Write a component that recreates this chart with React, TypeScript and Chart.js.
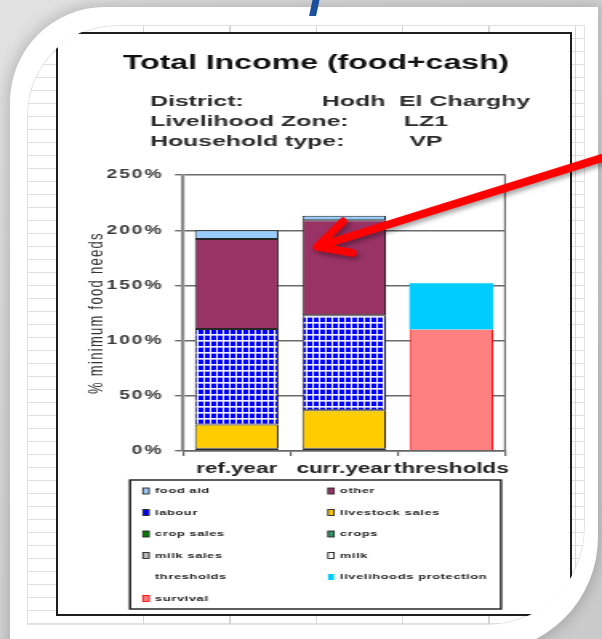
import React, { useEffect, useRef } from 'react';
import { Chart, registerables } from 'chart.js';

Chart.register(...registerables);

// ---------- data ----------
const categories = ['ref.year', 'curr.year', 'thresholds'];
const foodAid = [8, 4, 0];
const other = [81.5, 86, 0];
const labour = [86.5, 86, 0];
const livestockSales = [22, 35, 0];
const cropSales = [0, 0, 0];
const crops = [0, 0, 0];
const milkSales = [0, 0, 0];
const milk = [2, 2, 0];
const thresholds = [0, 0, 0];
const livelihoodsProtection = [0, 0, 42];
const survival = [0, 0, 110];
const yMax = 250;
const yStep = 50;
const legendOrder = [
  'food aid', 'other',
  'labour', 'livestock sales',
  'crop sales', 'crops',
  'milk sales', 'milk',
  'thresholds', 'livelihoods protection',
  'survival',
];
const chartTitle = 'Total Income (food+cash)';
const infoLabels = ['District:', 'Livelihood Zone:', 'Household type:'];
const infoValues = ['Hodh  El Charghy', 'LZ1', 'VP'];
const yAxisTitle = '% minimum food needs';
const arrowTarget = { category: 'curr.year', value: 185, shift: -0.25 };

// ---------- layout ----------
const W = 602;
const H = 639;
const CW = 376;
const S = W / CW;
const FONT = '"Liberation Sans", Arial, Helvetica, sans-serif';
const fx = (x: number) => x / S;

const letterSpacingPlugin = {
  id: 'spacing',
  beforeDraw(chart: any) {
    chart.ctx.letterSpacing = '1.3px';
  },
  afterDatasetsDraw(chart: any) {
    chart.ctx.letterSpacing = '0px';
    const { ctx, chartArea: a } = chart;
    ctx.save();
    ctx.strokeStyle = '#707070';
    ctx.lineWidth = 1.2;
    ctx.beginPath();
    ctx.moveTo(a.right, a.top - 0.6);
    ctx.lineTo(a.right, a.bottom);
    ctx.stroke();
    ctx.restore();
  },
};

const headerPlugin = {
  id: 'header',
  afterDraw(chart: any) {
    const ctx = chart.ctx;
    ctx.save();
    ctx.letterSpacing = '0px';
    ctx.fillStyle = '#111111';
    ctx.font = `bold 20px ${FONT}`;
    ctx.textAlign = 'center';
    ctx.textBaseline = 'middle';
    ctx.fillText(chartTitle, fx(316), 63);
    ctx.font = `bold 15.5px ${FONT}`;
    ctx.fillStyle = '#2c2c2c';
    infoLabels.forEach((l, i) => {
      ctx.textAlign = 'left';
      ctx.fillText(l, fx(150), 102 + 20 * i);
      ctx.textAlign = 'center';
      ctx.fillText(infoValues[i], fx(426), 102 + 20 * i);
    });
    ctx.restore();
  },
};

const legendPlugin = {
  id: 'boxLegend',
  afterDraw(chart: any) {
    const ctx = chart.ctx;
    ctx.save();
    const bx = fx(130);
    const by = 480;
    const bw = fx(501) - fx(130);
    const bh = 129;
    ctx.fillStyle = '#ffffff';
    ctx.fillRect(bx, by, bw, bh);
    ctx.strokeStyle = '#1a1a1a';
    ctx.lineWidth = 1.4;
    ctx.strokeRect(bx, by, bw, bh);
    ctx.font = `bold 8px ${FONT}`;
    ctx.letterSpacing = '0.4px';
    ctx.textAlign = 'left';
    ctx.textBaseline = 'middle';
    legendOrder.forEach((lbl, i) => {
      const ds = chart.data.datasets.find((d: any) => d.label === lbl);
      if (!ds) return;
      const col = i % 2;
      const row = Math.floor(i / 2);
      const mx = fx(col ? 331 : 146);
      const ty = 491 + row * 21.5;
      const hasFill = ds.backgroundColor !== 'rgba(0,0,0,0)';
      if (hasFill) {
        ctx.fillStyle = ds.legendColor || ds.backgroundColor;
        ctx.fillRect(mx - fx(3), ty - 3, fx(6), 6);
        if (ds.borderWidth) {
          ctx.strokeStyle = ds.borderColor;
          ctx.lineWidth = 0.9;
          ctx.strokeRect(mx - fx(3), ty - 3, fx(6), 6);
        }
      }
      ctx.fillStyle = '#222222';
      ctx.fillText(lbl, fx(col ? 340 : 155), ty);
    });
    ctx.restore();
  },
};

const arrowPlugin = {
  id: 'arrow',
  afterDraw(chart: any) {
    const { ctx, scales, chartArea: a } = chart;
    const idx = categories.indexOf(arrowTarget.category);
    const band = (a.right - a.left) / categories.length;
    const tipX = (scales.x.getPixelForValue(idx) + arrowTarget.shift * band) * S;
    const tipY = scales.y.getPixelForValue(arrowTarget.value);
    const ang = (-17.3 * Math.PI) / 180;
    const spread = (27 * Math.PI) / 180;
    const tailX = W + 20;
    const tailY = tipY + (tailX - tipX) * Math.tan(ang);
    const wl = 36;
    ctx.save();
    ctx.letterSpacing = '0px';
    ctx.scale(1 / S, 1);
    ctx.strokeStyle = '#FF0000';
    ctx.lineWidth = 8;
    ctx.lineCap = 'round';
    ctx.lineJoin = 'round';
    ctx.shadowColor = 'rgba(0,0,0,0.35)';
    ctx.shadowBlur = 4;
    ctx.shadowOffsetX = 1.5;
    ctx.shadowOffsetY = 3;
    ctx.beginPath();
    ctx.moveTo(tailX, tailY);
    ctx.lineTo(tipX, tipY);
    ctx.moveTo(tipX + wl * Math.cos(ang - spread), tipY + wl * Math.sin(ang - spread));
    ctx.lineTo(tipX, tipY);
    ctx.lineTo(tipX + wl * Math.cos(ang + spread), tipY + wl * Math.sin(ang + spread));
    ctx.stroke();
    ctx.restore();
  },
};

export default function App() {
  const ref = useRef<HTMLCanvasElement | null>(null);

  useEffect(() => {
    const canvas = ref.current;
    if (!canvas) return;
    const ctx = canvas.getContext('2d');
    if (!ctx) return;

    const pc = document.createElement('canvas');
    pc.width = 4;
    pc.height = 6;
    const p = pc.getContext('2d')!;
    p.fillStyle = '#0000FF';
    p.fillRect(0, 0, 4, 6);
    p.fillStyle = '#F0F0FF';
    p.fillRect(3, 0, 1, 6);
    p.fillRect(0, 4, 4, 1);
    p.fillStyle = '#9A9AFF';
    p.fillRect(0, 5, 3, 1);
    const pattern = ctx.createPattern(pc, 'repeat');

    const border = '#262626';
    const common = { borderColor: border, borderWidth: 1, borderSkipped: false };

    const chart = new Chart(canvas, {
      type: 'bar',
      data: {
        labels: categories,
        datasets: [
          { label: 'milk', data: milk, backgroundColor: '#FFFFFF', ...common },
          { label: 'milk sales', data: milkSales, backgroundColor: '#C0C0C0', ...common },
          { label: 'crops', data: crops, backgroundColor: '#339966', ...common },
          { label: 'crop sales', data: cropSales, backgroundColor: '#008000', ...common },
          { label: 'livestock sales', data: livestockSales, backgroundColor: '#FFCC00', ...common },
          { label: 'labour', data: labour, backgroundColor: pattern, legendColor: '#0000FF', ...common },
          { label: 'other', data: other, backgroundColor: '#993366', ...common },
          { label: 'food aid', data: foodAid, backgroundColor: '#99CCFF', ...common },
          {
            label: 'survival',
            data: survival,
            backgroundColor: '#FF8080',
            borderColor: '#FF0000',
            borderWidth: { left: 1, right: 1, top: 0, bottom: 0 },
            borderSkipped: false,
          },
          { label: 'livelihoods protection', data: livelihoodsProtection, backgroundColor: '#00CCFF', borderWidth: 0 },
          { label: 'thresholds', data: thresholds, backgroundColor: 'rgba(0,0,0,0)', borderWidth: 0 },
        ] as any,
      },
      options: {
        animation: false,
        responsive: false,
        devicePixelRatio: 1,
        layout: { padding: { top: 175, right: CW - fx(505), bottom: H - 451 - 30, left: 0 } },
        datasets: { bar: { categoryPercentage: 1, barPercentage: 0.78 } },
        plugins: {
          legend: { display: false },
          title: { display: false },
          tooltip: { enabled: false },
        },
        scales: {
          x: {
            stacked: true,
            grid: { drawOnChartArea: false, drawTicks: true, tickLength: 5, offset: true, color: '#666666', lineWidth: 1.2, z: 1 },
            border: { display: true, color: '#666666', width: 1.5, z: 1 },
            ticks: { z: 1, font: { family: FONT, size: 14, weight: 'bold' }, color: '#222222', padding: 5, maxRotation: 0, autoSkip: false },
            afterFit(s: any) { s.height = 30; },
          },
          y: {
            stacked: true,
            min: 0,
            max: yMax,
            ticks: {
              stepSize: yStep,
              callback: (v: any) => v + '%',
              font: { family: FONT, size: 12, weight: 'bold' },
              color: '#3a3a3a',
              padding: 7,
            },
            grid: { color: '#6a6a6a', lineWidth: 1.4, tickLength: 5, drawTicks: true },
            border: { color: '#8a8a8a', width: 2.2 },
            title: {
              display: true,
              text: yAxisTitle,
              font: { family: FONT, size: 13 },
              color: '#333333',
              padding: { top: 53, bottom: 0 },
            },
            afterFit(s: any) { s.width = fx(183); },
          },
        },
      } as any,
      plugins: [letterSpacingPlugin, headerPlugin, legendPlugin, arrowPlugin],
    });
    return () => chart.destroy();
  }, []);

  const gridBg =
    'repeating-linear-gradient(to right, transparent 0px, transparent 85px, #d6d6d6 85px, #d6d6d6 86.3px), ' +
    'repeating-linear-gradient(to bottom, transparent 0px, transparent 12px, #e0e0e0 12px, #e0e0e0 13px)';

  return (
    <div style={{ position: 'fixed', left: 0, top: 0, width: W, height: H, overflow: 'hidden', background: '#d2d2d2' }}>
      <div
        style={{
          position: 'absolute', left: 0, top: 0, width: W, height: H,
          background: 'linear-gradient(135deg, #e2e2e2 0%, #d6d6d6 40%, #cacaca 100%)',
        }}
      />
      <div
        style={{
          position: 'absolute', left: 10, top: 7, width: 588, height: 645,
          background: '#ffffff', borderTopLeftRadius: 95, borderBottomRightRadius: 115,
          boxShadow: '0 0 14px 3px rgba(0,0,0,0.18)',
        }}
      />
      <div
        style={{
          position: 'absolute', left: 27, top: 25, width: 558, height: 600,
          borderTopLeftRadius: 90, borderBottomRightRadius: 98, overflow: 'hidden',
          boxShadow: 'inset 0 0 0 1px #e2e2e2', background: '#ffffff',
          backgroundImage: gridBg, backgroundPosition: '31px 0px, 0px 1px',
        }}
      >
        <div
          style={{
            position: 'absolute', left: 29, top: 7, width: 516, height: 584,
            boxSizing: 'border-box', border: '2px solid #1e1e1e', background: '#ffffff',
          }}
        />
      </div>
      <div
        style={{
          position: 'absolute', left: 311, top: -2, width: 7, height: 18,
          background: '#1c4f9c', transform: 'skewX(-12deg)',
        }}
      />
      <canvas
        ref={ref}
        width={CW}
        height={H}
        style={{
          position: 'absolute', left: 0, top: 0, width: `${CW}px`, height: `${H}px`,
          transform: `scaleX(${S})`, transformOrigin: '0 0',
        }}
      />
    </div>
  );
}
